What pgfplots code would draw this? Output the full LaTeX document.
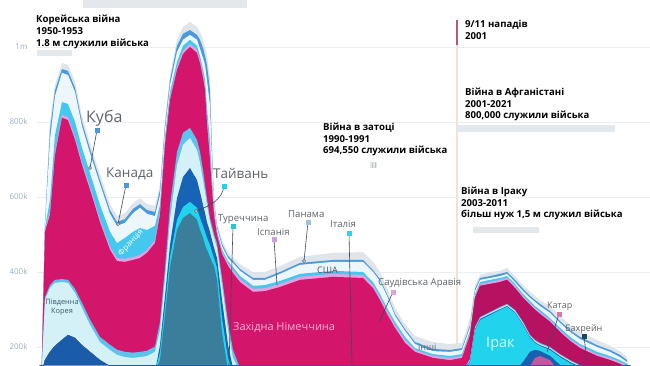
\documentclass[border=0pt]{standalone}
\usepackage{pgfplots}
\usepackage{pgfplotstable}
\pgfplotsset{compat=1.18}
\usepackage{fontspec}
\setmainfont{Open Sans}
\definecolor{cgr}{HTML}{DFE5EA}
\definecolor{cbl}{HTML}{4A9ADB}
\definecolor{cwh}{HTML}{EDF7FB}
\definecolor{cfr}{HTML}{45C8EF}
\definecolor{clv}{HTML}{E6A0E0}
\definecolor{cmg}{HTML}{D3156B}
\definecolor{cmgd}{HTML}{B71262}
\definecolor{cmc}{HTML}{5CC3EC}
\definecolor{clc}{HTML}{D4F1F7}
\definecolor{cdc}{HTML}{1763B5}
\definecolor{ccy}{HTML}{22D3EE}
\definecolor{cte}{HTML}{3A7E9C}
\definecolor{cdb}{HTML}{1B5FB0}
\definecolor{cpk}{HTML}{C4579E}
\definecolor{ca}{HTML}{1B5CAA}
\definecolor{tickc}{HTML}{9AAFC4}
\definecolor{gridc}{HTML}{EBEEF1}
\definecolor{barc}{HTML}{E3E8EC}
\definecolor{vlinec}{HTML}{ECE5D3}
\definecolor{mauve}{HTML}{B35A78}
\definecolor{labc}{HTML}{5F6469}
\definecolor{leadc}{HTML}{3D4A5A}
\definecolor{sqa}{HTML}{22C4E0}
\definecolor{sqb}{HTML}{C9A0DC}
\definecolor{sqc}{HTML}{9FC2D6}
\definecolor{sqd}{HTML}{35D0F0}
\definecolor{sqe}{HTML}{E3A4DC}
\definecolor{sqf}{HTML}{D77AA6}
\definecolor{sqg}{HTML}{174A55}
\definecolor{usac}{HTML}{4A5560}
\definecolor{gerc}{HTML}{F7B0D6}
\definecolor{iraqc}{HTML}{D6FBFF}
\definecolor{korc}{HTML}{3E5A6A}

\pgfplotstableread{
yr a pk db te cy dc lc mc mg lv fr wh bl gr
1949.50 0 0 0 0 0 0 0 0 0 0 0 0 0 0
1949.75 133 133 133 133 133 133 155 157 171 173 176 179 181 184
1950.12 165 165 165 165 165 165 325 333 507 512 517 523 531 539
1950.74 187 187 187 187 187 187 357 365 552 560 592 752 779 800
1951.36 203 203 203 203 203 203 371 379 712 720 765 869 885 899
1952.22 219 219 219 219 219 219 373 381 811 819 853 931 941 957
1952.96 232 232 232 232 232 232 371 379 805 813 848 925 936 952
1953.83 224 224 224 224 224 224 344 355 752 760 800 880 891 907
1954.69 205 205 205 205 205 205 304 318 685 693 731 789 800 816
1955.68 187 187 187 187 187 187 259 273 619 627 664 717 728 744
1956.91 165 165 165 165 165 165 213 227 533 541 579 635 645 661
1958.15 149 149 149 149 149 149 192 206 459 467 507 555 565 581
1959.01 139 139 139 139 139 139 179 193 429 437 477 523 533 549
1960.00 133 133 133 133 133 133 173 187 427 435 491 531 541 557
1960.99 133 133 133 133 133 133 171 185 432 440 507 557 568 584
1961.85 133 133 133 133 133 133 173 187 437 445 517 571 581 597
1962.72 133 133 133 133 133 133 176 190 451 459 512 555 565 581
1963.70 133 133 133 133 133 133 187 201 477 485 523 549 560 576
1964.32 133 133 133 165 187 205 245 267 552 560 579 605 619 632
1964.94 133 133 133 285 309 336 384 411 739 747 760 779 792 805
1965.56 133 133 133 413 440 472 539 579 859 867 880 899 912 925
1966.42 133 133 133 512 539 597 685 720 939 947 960 987 1003 1019
1967.16 133 133 133 544 573 653 739 771 981 989 1003 1019 1035 1053
1968.02 133 133 133 557 587 677 757 784 1000 1008 1019 1032 1045 1067
1968.89 133 133 133 539 571 645 725 752 984 992 1003 1019 1032 1053
1969.26 133 133 133 512 544 613 691 720 957 965 976 995 1019 1040
1969.63 133 133 133 491 523 579 645 672 917 928 941 971 997 1019
1969.88 133 133 133 472 507 557 611 632 885 896 912 952 976 1000
1970.12 133 133 133 459 491 533 579 597 797 813 837 912 952 979
1970.49 133 133 133 440 472 507 533 544 699 720 752 845 885 917
1970.74 133 133 133 427 453 485 512 523 619 632 651 704 725 752
1970.99 133 133 133 416 437 464 491 501 552 560 568 584 589 605
1971.36 133 133 133 379 411 437 464 477 499 504 509 517 523 533
1971.98 133 133 133 237 277 325 365 384 448 453 459 469 475 485
1972.72 133 133 133 139 171 205 245 267 416 424 429 437 443 453
1973.33 133 133 133 133 133 144 171 192 397 405 413 424 429 440
1974.20 133 133 133 133 133 133 133 144 373 381 389 403 408 421
1975.80 133 133 133 133 133 133 133 133 347 355 363 379 384 400
1977.28 133 133 133 133 133 133 133 133 349 357 365 379 384 400
1979.14 133 133 133 133 133 133 133 133 360 368 376 395 400 416
1981.60 133 133 133 133 133 133 133 133 379 387 395 419 424 440
1985.68 133 133 133 133 133 133 133 133 387 395 403 427 432 451
1989.38 133 133 133 133 133 133 133 133 384 392 400 427 432 453
1990.62 133 133 133 133 133 133 133 133 357 365 373 400 405 427
1991.48 133 133 133 133 133 133 133 133 325 333 341 376 381 400
1992.35 133 133 133 133 133 133 133 133 288 296 304 336 341 357
1993.33 133 133 133 133 133 133 133 133 251 259 267 283 288 304
1994.57 133 133 133 133 133 133 133 133 211 219 227 243 248 261
1995.80 133 133 133 133 133 133 133 133 187 192 197 208 213 229
1998.02 133 133 133 133 133 133 133 133 171 176 181 189 195 213
2000.12 133 133 133 133 133 133 133 133 165 171 176 187 192 208
2001.60 133 133 133 133 133 133 133 133 171 176 181 192 197 211
2002.59 133 133 133 133 160 163 165 168 232 237 243 253 259 277
2003.21 133 133 133 133 245 248 251 253 331 336 341 349 355 365
2003.83 133 133 133 133 272 275 277 280 363 368 373 379 384 392
2005.06 133 133 133 133 285 288 291 293 368 373 379 384 389 400
2006.30 133 133 133 133 299 301 304 307 373 379 384 389 395 403
2007.16 133 133 133 133 307 309 312 315 379 384 389 395 400 411
2008.15 133 133 133 133 291 293 296 299 357 363 368 373 379 389
2009.14 133 133 160 160 259 261 264 267 331 336 341 349 355 365
2010.00 133 149 187 187 224 227 229 232 312 317 323 331 336 347
2010.62 133 171 192 192 211 213 216 219 299 304 309 320 325 336
2011.23 133 176 189 189 203 205 208 211 288 293 299 309 315 325
2012.47 133 165 176 176 192 195 197 200 267 272 277 291 296 309
2013.70 133 133 152 152 173 176 179 181 240 245 251 264 269 283
2014.94 133 133 133 133 157 160 163 165 216 221 227 240 245 259
2016.17 133 133 133 133 144 147 149 152 197 203 208 221 227 240
2018.27 133 133 133 133 133 133 139 141 176 181 187 200 205 219
2019.88 133 133 133 133 133 133 133 133 165 171 176 187 192 203
2021.11 133 133 133 133 133 133 133 133 155 160 165 173 179 189
2021.98 133 133 133 133 133 133 133 133 144 149 155 160 165 173
2022.35 0 0 0 0 0 0 0 0 0 0 0 0 0 0
}\streamdata

\begin{document}
\begin{tikzpicture}
\begin{axis}[
  at={(0pt,0pt)}, anchor=south west,
  scale only axis, width=650pt, height=365pt,
  xmin=1944.57, xmax=2024.81, ymin=152, ymax=1125,
  axis line style={draw=none},
  xtick=\empty,
  ytick={200,400,600,800,1000},
  yticklabels={200k,400k,600k,800k,1m},
  major tick length=0pt,
  yticklabel style={font=\fontsize{8}{8}\selectfont, text=tickc, anchor=east, xshift=31pt},
  clip=true,
]
% grid lines
\draw[gridc, line width=0.7pt] (axis cs:1949.1,200) -- (axis cs:2024.81,200);
\draw[gridc, line width=0.7pt] (axis cs:1949.1,400) -- (axis cs:2024.81,400);
\draw[gridc, line width=0.7pt] (axis cs:1949.1,600) -- (axis cs:2024.81,600);
\draw[gridc, line width=0.7pt] (axis cs:1949.1,800) -- (axis cs:2024.81,800);
\draw[gridc, line width=0.7pt] (axis cs:1949.1,1000) -- (axis cs:2024.81,1000);
% 2001 line
\draw[vlinec, line width=1.4pt] (axis cs:2001,1005) -- (axis cs:2001,152);
\draw[mauve, line width=1.6pt] (axis cs:2001,1072) -- (axis cs:2001,1005);
% event bars
\fill[barc] (axis cs:1949.14,976) rectangle (axis cs:1953.46,992);
\fill[barc] (axis cs:1954.8,1104) rectangle (axis cs:1975.06,1125);
\fill[barc] (axis cs:1990.25,677) rectangle (axis cs:1991.1,693);
\draw[gridc!60!gray, line width=0.4pt] (axis cs:1990.5,677) -- (axis cs:1990.5,693);
\draw[gridc!60!gray, line width=0.4pt] (axis cs:1990.85,677) -- (axis cs:1990.85,693);
\fill[barc] (axis cs:2001,773) rectangle (axis cs:2020.5,792);
\fill[barc] (axis cs:2002.96,504) rectangle (axis cs:2011.1,520);
% stream layers, top to bottom
\addplot[fill=cgr, draw=none] table[x=yr, y=gr] {\streamdata} \closedcycle;
\addplot[fill=cbl, draw=none] table[x=yr, y=bl] {\streamdata} \closedcycle;
\addplot[fill=cwh, draw=none] table[x=yr, y=wh] {\streamdata} \closedcycle;
\addplot[fill=cfr, draw=none] table[x=yr, y=fr] {\streamdata} \closedcycle;
\addplot[fill=clv, draw=none] table[x=yr, y=lv] {\streamdata} \closedcycle;
\addplot[fill=cmg, draw=none] table[x=yr, y=mg] {\streamdata} \closedcycle;
\addplot[fill=cmgd, draw=none, restrict x to domain=2002.5:2023] table[x=yr, y=mg] {\streamdata} \closedcycle;
\addplot[fill=cmc, draw=none] table[x=yr, y=mc] {\streamdata} \closedcycle;
\addplot[fill=clc, draw=none] table[x=yr, y=lc] {\streamdata} \closedcycle;
\addplot[fill=cdc, draw=none] table[x=yr, y=dc] {\streamdata} \closedcycle;
\addplot[fill=ccy, draw=none] table[x=yr, y=cy] {\streamdata} \closedcycle;
\addplot[fill=cte, draw=none] table[x=yr, y=te] {\streamdata} \closedcycle;
\addplot[fill=cdb, draw=none] table[x=yr, y=db] {\streamdata} \closedcycle;
\addplot[fill=cpk, draw=none] table[x=yr, y=pk] {\streamdata} \closedcycle;
\addplot[fill=ca, draw=none] table[x=yr, y=a] {\streamdata} \closedcycle;
\end{axis}

\begin{scope}[x=1pt, y=-1pt, shift={(0pt,365pt)}]
% bold annotations
\begin{scope}[every node/.style={anchor=base west, inner sep=0pt, font=\bfseries\fontsize{9.6}{10}\selectfont, text=black}]
\node at (36,23) {Корейська війна};
\node at (36,35) {1950-1953};
\node at (36,46.5) {1.8 м служили війська};
\node at (465,28) {9/11 нападів};
\node at (465,40) {2001};
\node at (465,95) {Війна в Афганістані};
\node at (465,107) {2001-2021};
\node at (465,118.5) {800,000 служили війська};
\node at (323,130) {Війна в затоці};
\node at (323,142) {1990-1991};
\node at (323,153.5) {694,550 служили війська};
\node at (461,194) {Війна в Іраку};
\node at (461,206) {2003-2011};
\node at (461,217.5) {більш нуж 1,5 м служил війська};
\end{scope}
% leader lines
\begin{scope}[leadc, line width=0.6pt]
\draw (97,130) -- (90,168);
\draw (126,185) -- (118,224);
\draw (224,186) .. controls (222,200) and (210,206) .. (196,211);
\draw (233,226) -- (229,365);
\draw (274,239) -- (277,285);
\draw (308,222) -- (304,261);
\draw (349,233) -- (352,365);
\draw (393,292) -- (379,322);
\draw (559,314) -- (547,352);
\draw (584,336) -- (587,362);
\end{scope}
\fill[cbl] (94.5,127.5) rectangle (99.5,132.5);
\fill[cbl] (123.5,182.5) rectangle (128.5,187.5);
\fill[ccy] (221.5,183.5) rectangle (226.5,188.5);
\fill[sqa] (230.5,223.5) rectangle (235.5,228.5);
\fill[sqb] (271.5,236.5) rectangle (276.5,241.5);
\fill[sqc] (305.5,219.5) rectangle (310.5,224.5);
\fill[sqd] (346.5,230.5) rectangle (351.5,235.5);
\fill[sqe] (390.5,289.5) rectangle (395.5,294.5);
\fill[sqf] (556.5,311.5) rectangle (561.5,316.5);
\fill[sqg] (581.5,333.5) rectangle (586.5,338.5);
\draw[leadc, fill=white, line width=0.5pt] (90,168) circle (1.6);
\draw[leadc, fill=white, line width=0.5pt] (118,224) circle (1.6);
\draw[leadc, fill=white, line width=0.5pt] (196,211) circle (1.6);
\draw[leadc, fill=white, line width=0.5pt] (304,261) circle (1.6);
% gray labels
\begin{scope}[every node/.style={anchor=base west, inner sep=0pt, text=labc}]
\node[font=\fontsize{16}{16}\selectfont] at (86,122) {Куба};
\node[font=\fontsize{13.5}{14}\selectfont] at (106,177.5) {Канада};
\node[font=\fontsize{13.5}{14}\selectfont] at (213,178.5) {Тайвань};
\node[font=\fontsize{9.6}{10}\selectfont] at (218,221) {Туреччина};
\node[font=\fontsize{9.6}{10}\selectfont] at (257,235) {Іспанія};
\node[font=\fontsize{9.6}{10}\selectfont] at (288,217) {Панама};
\node[font=\fontsize{9.6}{10}\selectfont] at (330,227) {Італія};
\node[font=\fontsize{9}{10}\selectfont, text=usac] at (317,273) {США};
\node[font=\fontsize{9.6}{10}\selectfont] at (378,285) {Саудівська Аравія};
\node[font=\fontsize{9}{10}\selectfont] at (418,350) {інші};
\node[font=\fontsize{9}{10}\selectfont] at (547,308) {Катар};
\node[font=\fontsize{9}{10}\selectfont] at (565,331) {Бахрейн};
\node[font=\fontsize{11}{12}\selectfont, text=gerc] at (233,330) {Західна Німеччина};
\node[font=\fontsize{14.5}{15}\selectfont, text=iraqc] at (486,347) {Ірак};
\end{scope}
\node[font=\fontsize{7.4}{8}\selectfont, text=korc, anchor=base, inner sep=0pt] at (62,304) {Південна};
\node[font=\fontsize{7.4}{8}\selectfont, text=korc, anchor=base, inner sep=0pt] at (62,313) {Корея};
\node[font=\fontsize{8}{8}\selectfont, text=white, rotate=47, inner sep=0pt] at (131,243) {Франція};
\end{scope}
\pgfresetboundingbox
\useasboundingbox (0pt,0pt) rectangle (650pt,365pt);
\end{tikzpicture}
\end{document}
